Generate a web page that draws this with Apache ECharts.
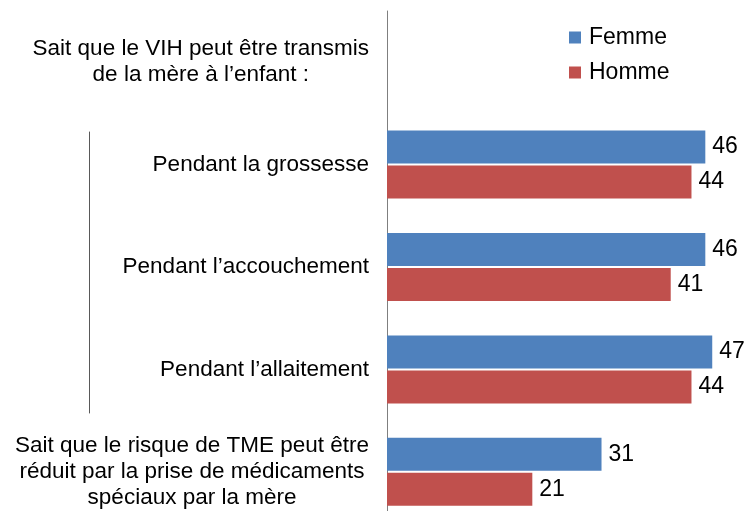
<!DOCTYPE html>
<html>
<head>
<meta charset="utf-8">
<script src="https://cdn.jsdelivr.net/npm/echarts@6/dist/echarts.min.js"></script>
<style>
  html, body { margin: 0; padding: 0; background: #fff; }
  #chart { width: 747px; height: 511px; }
</style>
</head>
<body>
<div id="chart"></div>
<script>
// Question labels (top to bottom)
const categories = [
  "Sait que le VIH peut être transmis\nde la mère à l’enfant :",
  "Pendant la grossesse",
  "Pendant l’accouchement",
  "Pendant l’allaitement",
  "Sait que le risque de TME peut être\nréduit par la prise de médicaments\nspéciaux par la mère"
];
const seriesNames = ["Femme", "Homme"];
// Percentages; the heading row carries no bars
const femme = ['-', 46, 46, 47, 31];
const homme = ['-', 44, 41, 44, 21];

const FONT = "'Liberation Sans', Arial, sans-serif";
const chart = echarts.init(document.getElementById('chart'), null, { renderer: 'canvas' });

const valueLabel = {
  show: true,
  position: 'right',
  distance: 7,
  color: '#000',
  fontSize: 23,
  fontFamily: FONT
};

chart.setOption({
  animation: false,
  color: ['#4F81BD', '#C0504D'],
  legend: {
    data: seriesNames,
    orient: 'vertical',
    left: 564,
    top: 21,
    itemWidth: 12,
    itemHeight: 12,
    itemGap: 12,
    icon: 'rect',
    textStyle: { fontSize: 23, fontFamily: FONT, color: '#000', padding: [0, 0, 0, 3] }
  },
  grid: { left: 387, top: 11, width: 346, height: 512, containLabel: false, outerBoundsMode: 'none' },
  xAxis: {
    type: 'value',
    min: 0,
    max: 50,
    show: false,
    splitLine: { show: false }
  },
  yAxis: {
    type: 'category',
    inverse: true,
    data: categories,
    axisLine: { show: true, lineStyle: { color: '#7f7f7f', width: 1 } },
    axisTick: { show: false },
    axisLabel: {
      margin: 18,
      align: 'right',
      lineHeight: 26,
      formatter: function (v) {
        return v.split('\n').map(function (l) { return '{c|' + l + '}'; }).join('\n');
      },
      rich: {
        c: { align: 'center', fontSize: 22.5, fontFamily: FONT, color: '#000', lineHeight: 26 }
      }
    }
  },
  series: [
    {
      name: seriesNames[0],
      type: 'bar',
      data: femme,
      barWidth: 33,
      barGap: '6%',
      label: valueLabel
    },
    {
      name: seriesNames[1],
      type: 'bar',
      data: homme,
      barWidth: 33,
      barGap: '6%',
      label: valueLabel
    }
  ]
});

// Bracket grouping the three "Pendant ..." rows
function drawBracket() {
  const top = chart.convertToPixel({ gridIndex: 0 }, [0, 1])[1] - 33;
  const bottom = chart.convertToPixel({ gridIndex: 0 }, [0, 3])[1] + 44;
  chart.setOption({
    graphic: [{
      type: 'line',
      shape: { x1: 89.5, y1: top, x2: 89.5, y2: bottom },
      style: { stroke: '#595959', lineWidth: 1 }
    }]
  });
}
drawBracket();
</script>
</body>
</html>
